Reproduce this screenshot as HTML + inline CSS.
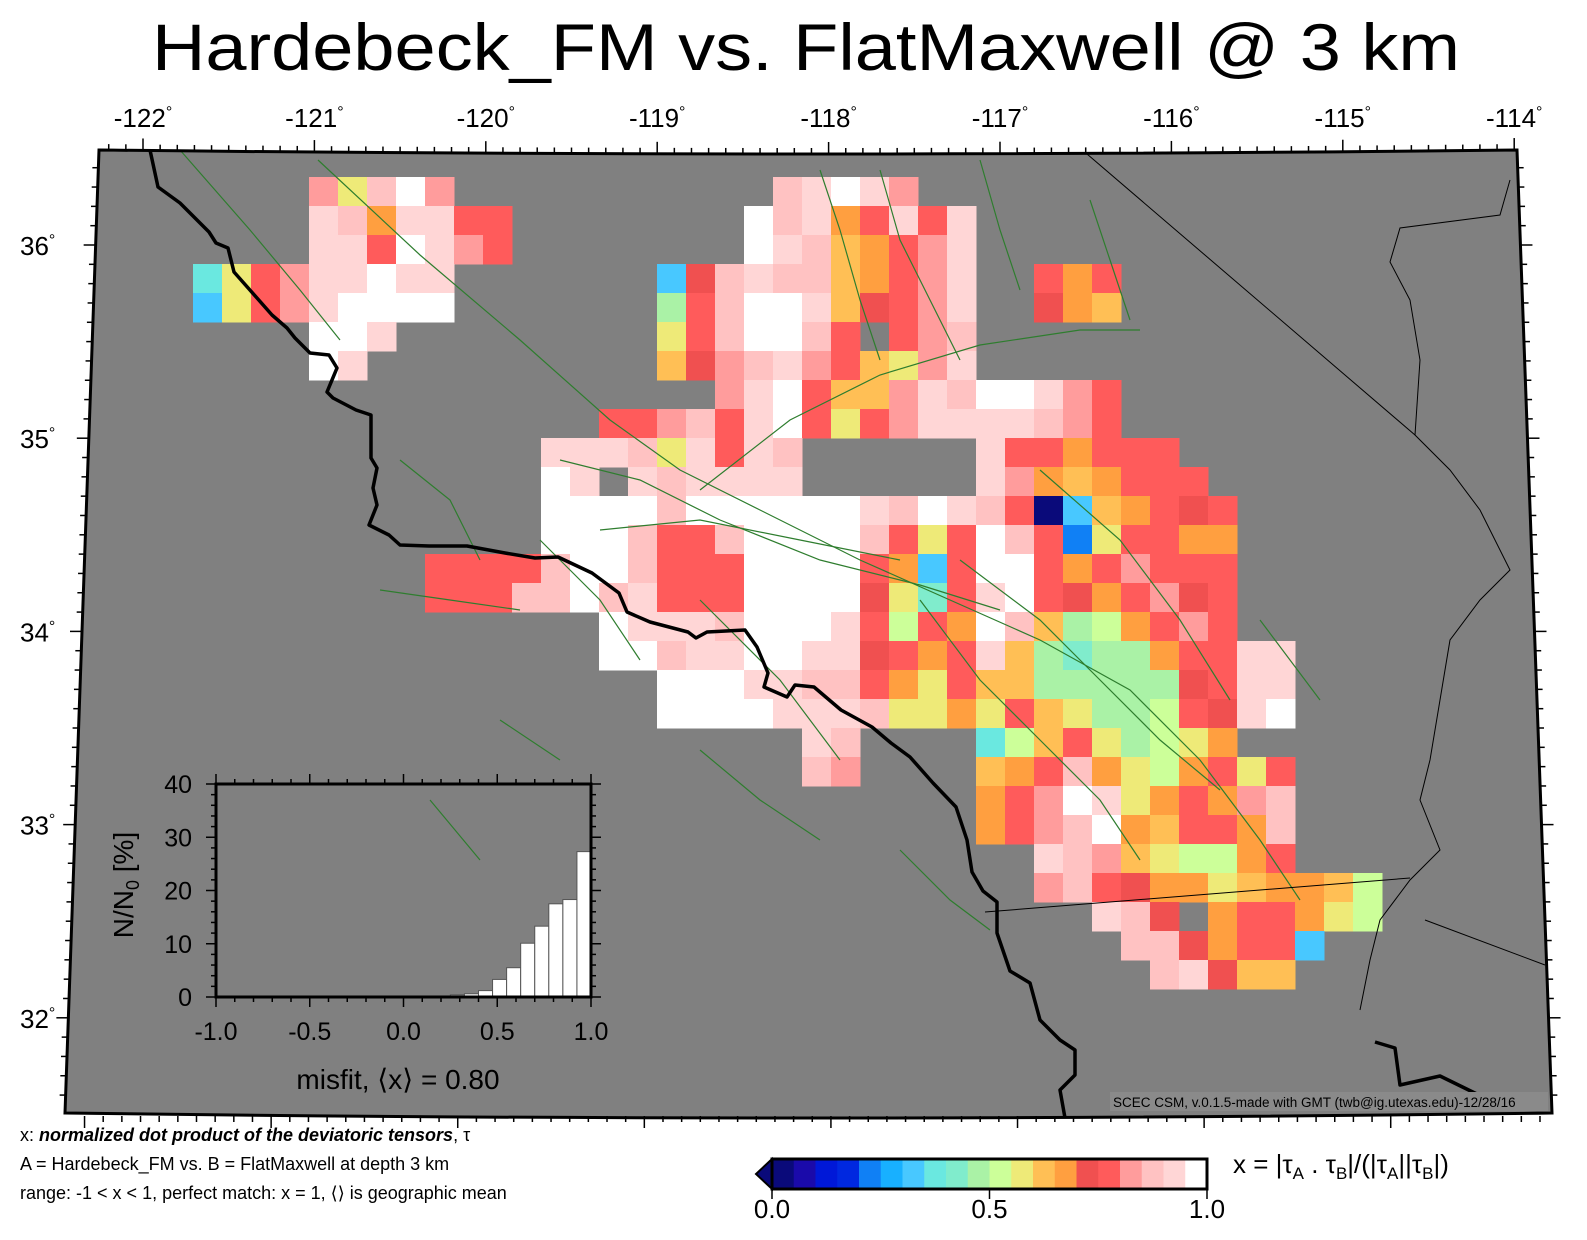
<!DOCTYPE html>
<html><head><meta charset="utf-8"><style>
html,body{margin:0;padding:0;background:#fff;}
svg{display:block;font-family:"Liberation Sans",sans-serif;}
.ab{font-family:"DejaVu Sans",sans-serif;}
</style></head><body>
<svg id="chart" width="1587" height="1240" viewBox="0 0 1587 1240" xmlns="http://www.w3.org/2000/svg">
<text x="152" y="70" font-size="66" textLength="1308" lengthAdjust="spacingAndGlyphs">Hardebeck_FM vs. FlatMaxwell @ 3 km</text>
<defs><clipPath id="mapclip"><path d="M99,150 Q808,158 1517,150 L1552,1113 Q808,1123 65,1113 Z"/></clipPath></defs>
<path d="M99,150 Q808,158 1517,150 L1552,1113 Q808,1123 65,1113 Z" fill="#808080"/>
<g id="grid" clip-path="url(#mapclip)"></g>
<g id="faults" clip-path="url(#mapclip)" fill="none" stroke="#2e7d2e" stroke-width="1.2">
<path d="M318,160 L420,255 L520,340 L610,420 L680,470 L760,510 L860,560 L950,600 L1040,640 L1130,690 L1200,760 L1260,840 L1300,900"/>
<path d="M180,150 L250,230 L300,290 L340,340"/>
<path d="M700,490 L790,420 L880,375 L980,345 L1080,330 L1140,330"/>
<path d="M560,460 L640,480 L720,520 L820,560 L920,585 L1000,610"/>
<path d="M600,530 L700,520 L800,540 L900,560"/>
<path d="M1040,470 L1120,540 L1180,620 L1230,700"/>
<path d="M960,560 L1040,620 L1100,680 L1160,740 L1220,790"/>
<path d="M920,600 L980,680 L1040,740 L1100,800 L1140,860"/>
<path d="M400,460 L450,500 L480,560"/>
<path d="M540,540 L600,600 L640,660"/>
<path d="M380,590 L450,600 L520,610"/>
<path d="M820,170 L840,230 L860,300 L880,360"/>
<path d="M880,170 L900,240 L930,300 L960,360"/>
<path d="M980,160 L1000,230 L1020,290"/>
<path d="M1090,200 L1110,260 L1130,320"/>
<path d="M700,750 L760,800 L820,840"/>
<path d="M900,850 L950,900 L990,930"/>
<path d="M700,600 L780,680 L840,760"/>
<path d="M1260,620 L1320,700"/>
<path d="M500,720 L560,760"/>
<path d="M430,800 L480,860"/>
</g>
<g fill="none" stroke="#000" stroke-width="1" clip-path="url(#mapclip)">
<path d="M1080,148 L1415,435"/>
<path d="M1510,180 L1500,215 L1400,228 L1390,262 L1410,300 L1420,360 L1415,435 L1450,470 L1480,510 L1510,570 L1480,600 L1450,640 L1440,700 L1430,760 L1420,800 L1440,850 L1410,880 L1380,920 L1370,960 L1360,1010"/>
<path d="M985,912 L1410,878"/>
<path d="M1425,920 L1545,965"/>
</g>
<g fill="none" stroke="#000" stroke-width="3.5" stroke-linejoin="round" clip-path="url(#mapclip)">
<path d="M150,150 L158,187 L180,203 L209,232 L216,243 L228,248 L234,272 L257,298 L272,315 L287,328 L295,338 L310,353 L329,355 L337,368 L327,392 L333,398 L356,410 L371,415 L371,458 L377,468 L373,488 L377,505 L369,525 L389,535 L400,545 L429,546 L467,546 L505,553 L535,558 L558,557 L592,573 L619,593 L627,612 L650,622 L688,632 L696,638 L707,632 L745,630 L757,647 L768,673 L764,687 L787,697 L795,685 L814,687 L841,710 L872,727 L891,743 L910,757 L933,783 L956,807 L967,840 L972,872 L983,891 L997,902 L997,933 L1010,971 L1030,983 L1040,1020 L1060,1040 L1075,1050 L1075,1075 L1060,1090 L1065,1118"/>
<path d="M1375,1042 L1395,1048 L1400,1085 L1440,1076 L1485,1098"/>
</g>
<path d="M99,150 Q808,158 1517,150 L1552,1113 Q808,1123 65,1113 Z" fill="none" stroke="#000" stroke-width="3"/>
<g id="frameticks" stroke="#000" stroke-width="1.5"></g>
<g id="lonlabels" font-size="26"></g>
<g id="latlabels" font-size="26"></g>
<rect x="1110" y="1092" width="438" height="19" fill="#8a8a8a"/>
<text x="1113" y="1107" font-size="13.5">SCEC CSM, v.0.1.5-made with GMT (twb@ig.utexas.edu)-12/28/16</text>
<g id="hist"></g>
<g id="cbar"></g>
<text x="1233" y="1173" font-size="26">x = |τ<tspan font-size="17" dy="6">A</tspan><tspan dy="-6"> . τ</tspan><tspan font-size="17" dy="6">B</tspan><tspan dy="-6">|/(|τ</tspan><tspan font-size="17" dy="6">A</tspan><tspan dy="-6">||τ</tspan><tspan font-size="17" dy="6">B</tspan><tspan dy="-6">|)</tspan></text>
<text x="20" y="1141" font-size="18">x: <tspan font-weight="bold" font-style="italic">normalized dot product of the deviatoric tensors</tspan>, τ</text>
<text x="20" y="1170" font-size="18">A = Hardebeck_FM vs.  B = FlatMaxwell at depth 3 km</text>
<text x="20" y="1199" font-size="18">range: -1 &lt; x &lt; 1, perfect match: x = 1, <tspan class="ab">⟨⟩</tspan> is geographic mean</text>
</svg>
<script>
// ---- colour scale data ----
const cbarColors = ["#0a0a7a","#1a0aaa","#0018d8","#0028e0","#1080f5","#18b0ff","#48c8ff","#6ae8e0","#80eccc","#aaf2a6","#ccff99","#eeea78","#ffbf55","#ff9f40","#f05050","#ff5b5b","#ff9c9c","#ffc2c2","#ffd6d6","#ffffff"];
const cbarTicks = [0.0, 0.5, 1.0];
const cbarTickLabels = ["0.0","0.5","1.0"];
const codeChars = "NnBDbCcTtglYyoSRrqpW";
// ---- map grid data (rows of misfit codes, '.' = no data) ----
const gridRows = [
"....rYqWr...........qpWpr................",
"....pqoppRR........WqpoRpRp..............",
"....ppRWprR........WpqyoRrp..............",
"TYRrppWpp.......cSqpqqyoRrp..RoR.........",
"cYRrpWWWW.......gRqWWpySRrp..Soy.........",
"....WWp.........YRqWWqR.Rrq..............",
"....Wp..........ySrqprRyYrp..............",
"..................rpWRyyrpqWWprR.........",
"..............RRrqRpWRYRrppppqrR.........",
"............pppqYpRpq......pRRoRRR.......",
"............Wp.pqpppp......proyoRRR......",
"............WWWWqWWWWWWpqWpqRNcyoRSR.....",
"............WWWqRRqWWWWqRYRWqRbYRRoo.....",
"........RRRRqWWqRRRWWWWRocRWWRoRrRRR.....",
"........RRRqqWqpRRRWWWWSYtRpWRSoRrSR.....",
"..............WpppqWWWpRlRoWqygloRrR.....",
"..............WWqppWWppSRoRpygtggoRRpp...",
"................WWWppqqRoYRyygggggSRpp...",
"................WWWWpppqYYoYRyYgglRSpW...",
".....................pq....TlyRYglYo.....",
".....................qr....yoRqoYloRYR...",
"...........................oRrWpYoRorq...",
"...........................oRrqWoyRRoq...",
".............................pqryYlloR...",
".............................rqRSooYyooyl",
"...............................pqS.oRRoYl",
"................................qqSoRRc..",
".................................qpSyy..."
];
const gridX0 = 193, gridY0 = 177, cellW = 29, cellH = 29;
// ---- histogram data ----
const histBinStart = [0.25,0.325,0.4,0.475,0.55,0.625,0.7,0.775,0.85,0.925];
const histBinWidth = 0.075;
const histValues = [0.4,0.6,1.2,3.3,5.5,10.1,13.3,17.5,18.3,27.3];
const histXTicks = [-1.0,-0.5,0.0,0.5,1.0];
const histXTickLabels = ["-1.0","-0.5","0.0","0.5","1.0"];
const histYTicks = [0,10,20,30,40];
const histYTickLabels = ["0","10","20","30","40"];
// ---- frame labels ----
const lonTicks = [-122,-121,-120,-119,-118,-117,-116,-115,-114];
const lonLabels = ["-122","-121","-120","-119","-118","-117","-116","-115","-114"];
const latTicks = [36,35,34,33,32];
const latLabels = ["36","35","34","33","32"];

const NS = "http://www.w3.org/2000/svg";
function mk(tag, attrs, parent){const e=document.createElementNS(NS,tag);for(const k in attrs)e.setAttribute(k,attrs[k]);parent.appendChild(e);return e;}
function codeValue(ch){const k=codeChars.indexOf(ch);return k<0?null:0.025+0.05*k;}
function colorOf(v){let k=Math.floor(v/0.05);k=Math.max(0,Math.min(19,k));return cbarColors[k];}

const grid=document.getElementById('grid');
gridRows.forEach((row,j)=>{
  for(let i=0;i<row.length;i++){
    const v=codeValue(row[i]); if(v===null) continue;
    const r=mk('rect',{x:gridX0+i*cellW,y:gridY0+j*cellH,width:cellW+0.5,height:cellH+0.5,fill:colorOf(v)},grid);
    
    
  }
});

const lonX = lon => 143 + (lon+122)*171.4;
const latY = lat => 245 + (36-lat)*193.2;
const topY = x => { const t=(x-99)/(1517-99); return 150 + 2*t*(1-t)*8; };
const leftX = y => 99 + (y-150)*(65-99)/(1113-150);
const rightX = y => 1517 + (y-150)*(1552-1517)/(1113-150);
const ft=document.getElementById('frameticks');
for(let k=-122.4;k<=-113.95;k+=0.1){
  const x=lonX(k); if(x<100||x>1516) continue;
  const maj=Math.abs(k-Math.round(k))<0.01;
  const y=topY(x);
  mk('line',{x1:x,y1:y,x2:x,y2:y-(maj?12:6)},ft);
}
for(let k=-122.6;k<=-113.8;k+=0.1){
  const x=65+(lonX(k)-99)*(1552-65)/(1517-99)+ (lonX(k)-808)*0.04; if(x<66||x>1551) continue;
  const maj=Math.abs(k-Math.round(k))<0.01;
  mk('line',{x1:x,y1:1116,x2:x,y2:1116+(maj?12:6)},ft);
}
for(let lat=36.5;lat>=31.45;lat-=0.1){
  const y=latY(lat); if(y<152||y>1112) continue;
  const maj=Math.abs(lat-Math.round(lat))<0.01;
  const xl=leftX(y), xr=rightX(y);
  mk('line',{x1:xl,y1:y,x2:xl-(maj?12:6),y2:y},ft);
  mk('line',{x1:xr,y1:y,x2:xr+(maj?12:6),y2:y},ft);
}
const ll=document.getElementById('lonlabels');
lonTicks.forEach((lon,i)=>{
  const t=mk('text',{x:lonX(lon),y:127,'text-anchor':'middle'},ll);
  
  
  t.textContent=lonLabels[i];
  const s=mk('tspan',{'font-size':'16',dy:'-10'},t); s.textContent='°';
});
const la=document.getElementById('latlabels');
latTicks.forEach((lat,i)=>{
  const y=latY(lat);
  const t=mk('text',{x:20,y:y+10},la);
  
  
  t.textContent=latLabels[i];
  const s=mk('tspan',{'font-size':'16',dy:'-10'},t); s.textContent='°';
});

const hg=document.getElementById('hist');
const hx0=216,hx1=591,hy0=997,hy1=784;
const hX = v => hx0 + (v+1)/2*(hx1-hx0);
const hY = v => hy0 - v/40*(hy0-hy1);
histValues.forEach((v,i)=>{
  const b=mk('rect',{x:hX(histBinStart[i]),y:hY(v),width:hX(histBinStart[i]+histBinWidth)-hX(histBinStart[i]),height:hy0-hY(v),fill:'#fff',stroke:'#555','stroke-width':1},hg);
  
  
});
const box=mk('rect',{x:hx0,y:hy1,width:hx1-hx0,height:hy0-hy1,fill:'none',stroke:'#000','stroke-width':3},hg);


for(let v=-1;v<=1.001;v+=0.1){
  const maj=Math.abs(v*2-Math.round(v*2))<0.01;
  const x=hX(v);
  mk('line',{x1:x,y1:hy0,x2:x,y2:hy0+(maj?10:5),stroke:'#000','stroke-width':1.5},hg);
  mk('line',{x1:x,y1:hy1,x2:x,y2:hy1-(maj?10:5),stroke:'#000','stroke-width':1.5},hg);
}
for(let v=0;v<=40;v+=2){
  const maj=v%10===0; const y=hY(v);
  mk('line',{x1:hx0,y1:y,x2:hx0-(maj?10:5),y2:y,stroke:'#000','stroke-width':1.5},hg);
  mk('line',{x1:hx1,y1:y,x2:hx1+(maj?10:5),y2:y,stroke:'#000','stroke-width':1.5},hg);
}
histXTicks.forEach((v,i)=>{
  const t=mk('text',{x:hX(v),y:1040,'text-anchor':'middle','font-size':'25'},hg);
  
  
  t.textContent=histXTickLabels[i];
});
histYTicks.forEach((v,i)=>{
  const t=mk('text',{x:192,y:hY(v)+9,'text-anchor':'end','font-size':'25'},hg);
  
  
  t.textContent=histYTickLabels[i];
});
const xt=mk('text',{x:398,y:1089,'text-anchor':'middle','font-size':'28'},hg);


xt.textContent='misfit, ';
const xa=mk('tspan',{class:'ab'},xt); xa.textContent='⟨';
const xb=mk('tspan',{},xt); xb.textContent='x';
const xc=mk('tspan',{class:'ab'},xt); xc.textContent='⟩';
const xd=mk('tspan',{},xt); xd.textContent=' = 0.80';
const yt=mk('text',{x:0,y:0,'text-anchor':'middle','font-size':'28',transform:'translate(133,885) rotate(-90)'},hg);


yt.textContent='N/N';
const ys=mk('tspan',{'font-size':'18',dy:'6'},yt); ys.textContent='0';
const ys2=mk('tspan',{dy:'-6'},yt); ys2.textContent=' [%]';

const cb=document.getElementById('cbar');
const cx0=772,cx1=1207,cy0=1159,cy1=1189;
const cX = v => cx0 + v*(cx1-cx0);
cbarColors.forEach((c,i)=>{
  const r=mk('rect',{x:cX(i*0.05),y:cy0,width:cX(0.05)-cX(0)+0.5,height:cy1-cy0,fill:c},cb);
  
  
});
const tri=mk('path',{d:`M${cx0},${cy0} L${cx0-16},${(cy0+cy1)/2} L${cx0},${cy1} Z`,fill:cbarColors[0],stroke:'#000','stroke-width':2},cb);


mk('rect',{x:cx0,y:cy0,width:cx1-cx0,height:cy1-cy0,fill:'none',stroke:'#000','stroke-width':3},cb);
cbarTicks.forEach((v,i)=>{
  mk('line',{x1:cX(v),y1:cy1,x2:cX(v),y2:cy1+10,stroke:'#000','stroke-width':1.5},cb);
  const t=mk('text',{x:cX(v),y:1218,'text-anchor':'middle','font-size':'26'},cb);
  
  
  t.textContent=cbarTickLabels[i];
});
</script>
</body></html>
